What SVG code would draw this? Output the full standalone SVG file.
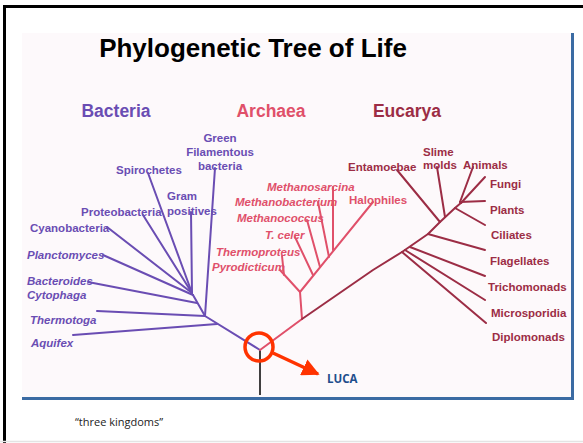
<svg xmlns="http://www.w3.org/2000/svg" width="583" height="443" viewBox="0 0 583 443">
<defs>
<style>
.t{font-family:"Liberation Sans",Arial,sans-serif;font-weight:bold;font-size:11.5px}
.i{font-style:italic}
.bac{fill:#6a4db3}
.arc{fill:#e0506a}
.euc{fill:#9c2d45}
.lb{fill:none;stroke:#6a4db3;stroke-width:2;stroke-linecap:round;stroke-linejoin:round}
.la{fill:none;stroke:#e0506a;stroke-width:2;stroke-linecap:round;stroke-linejoin:round}
.le{fill:none;stroke:#9c2d45;stroke-width:2;stroke-linecap:round;stroke-linejoin:round}
</style>
<marker id="ah" viewBox="0 0 10 10" refX="9" refY="5" markerWidth="5" markerHeight="5" orient="auto" markerUnits="strokeWidth">
<path d="M0,0 L10,5 L0,10 z" fill="#ff3300"/>
</marker>
</defs>
<rect x="0" y="0" width="583" height="443" fill="#ffffff"/>
<g id="frame">
<line x1="3" y1="6.5" x2="583" y2="6.5" stroke="#000" stroke-width="3"/>
<line x1="4.5" y1="5" x2="4.5" y2="443" stroke="#000" stroke-width="3"/>
<line x1="0" y1="441.5" x2="583" y2="441.5" stroke="#e4e4e4" stroke-width="1.5"/>
<rect x="22" y="33" width="550" height="365" fill="#fdf9fb"/>
<line x1="572.5" y1="33" x2="572.5" y2="400" stroke="#3b6ba3" stroke-width="3"/>
<line x1="22" y1="398.5" x2="574" y2="398.5" stroke="#3b6ba3" stroke-width="3"/>
</g>
<g id="title">
<text x="253" y="57" text-anchor="middle" font-family="Liberation Sans,Arial,sans-serif" font-weight="bold" font-size="26" fill="#000">Phylogenetic Tree of Life</text>
</g>
<g id="domains" font-family="Liberation Sans,Arial,sans-serif" font-weight="bold" font-size="17.5">
<text x="116" y="117" text-anchor="middle" class="bac">Bacteria</text>
<text x="271" y="117" text-anchor="middle" class="arc">Archaea</text>
<text x="407" y="117" text-anchor="middle" class="euc">Eucarya</text>
</g>
<g id="connectors">
<line x1="260" y1="350" x2="260" y2="395" stroke="#000" stroke-width="1.5"/>
<!-- Bacteria -->
<polyline class="lb" points="260,350 205,316 193,295"/>
<line class="lb" x1="217" y1="324" x2="73" y2="335"/>
<line class="lb" x1="205" y1="316" x2="97" y2="311"/>
<line class="lb" x1="197" y1="303" x2="88" y2="282"/>
<line class="lb" x1="193" y1="295" x2="103" y2="255"/>
<line class="lb" x1="205" y1="316" x2="215" y2="168"/>
<line class="lb" x1="192" y1="293" x2="191" y2="212"/>
<line class="lb" x1="192" y1="293" x2="148" y2="173"/>
<line class="lb" x1="192" y1="293" x2="143" y2="215"/>
<line class="lb" x1="192" y1="293" x2="107" y2="227"/>
<!-- Archaea -->
<polyline class="la" points="260,350 302,319 300,292 373,202"/>
<line class="la" x1="300" y1="292" x2="280" y2="270"/>
<line class="la" x1="284" y1="275" x2="282" y2="256"/>
<line class="la" x1="313" y1="275" x2="295" y2="237"/>
<line class="la" x1="320" y1="267" x2="307" y2="220"/>
<line class="la" x1="329" y1="257" x2="318" y2="202"/>
<line class="la" x1="333" y1="250" x2="333" y2="187"/>
<!-- Eucarya -->
<polyline class="le" points="302,319 373,270 402,252 428,234 440,222 455,208 462,202"/>
<line class="le" x1="440" y1="222" x2="397" y2="170"/>
<line class="le" x1="445" y1="217" x2="437" y2="167"/>
<line class="le" x1="460" y1="202" x2="473" y2="167"/>
<line class="le" x1="461" y1="203" x2="485" y2="177"/>
<line class="le" x1="460" y1="202" x2="485" y2="201"/>
<line class="le" x1="455" y1="208" x2="485" y2="225"/>
<line class="le" x1="428" y1="234" x2="485" y2="250"/>
<line class="le" x1="410" y1="247" x2="485" y2="276"/>
<line class="le" x1="405" y1="250" x2="485" y2="300"/>
<line class="le" x1="402" y1="252" x2="486" y2="323"/>
<!-- LUCA marker -->
<circle cx="259" cy="347" r="14" fill="none" stroke="#ff3300" stroke-width="3.5"/>
<line x1="273" y1="353" x2="318" y2="374" stroke="#ff3300" stroke-width="3.5" marker-end="url(#ah)"/>
</g>
<g id="bacteria-labels" class="t bac">
<text x="220" y="142" text-anchor="middle">Green</text>
<text x="220" y="156" text-anchor="middle">Filamentous</text>
<text x="220" y="170" text-anchor="middle">bacteria</text>
<text x="116" y="174">Spirochetes</text>
<text x="167" y="200">Gram</text>
<text x="167" y="215">positives</text>
<text x="81" y="216">Proteobacteria</text>
<text x="30" y="232">Cyanobacteria</text>
<text class="i" x="27" y="259">Planctomyces</text>
<text class="i" x="27" y="285">Bacteroides</text>
<text class="i" x="27" y="299">Cytophaga</text>
<text class="i" x="30" y="324">Thermotoga</text>
<text class="i" x="31" y="347">Aquifex</text>
</g>
<g id="archaea-labels" class="t arc">
<text class="i" x="267" y="191">Methanosarcina</text>
<text class="i" x="235" y="206">Methanobacterium</text>
<text class="i" x="237" y="222">Methanococcus</text>
<text class="i" x="265" y="239">T. celer</text>
<text class="i" x="216" y="256">Thermoproteus</text>
<text class="i" x="212" y="271">Pyrodicticum</text>
<text x="349" y="204">Halophiles</text>
</g>
<g id="eucarya-labels" class="t euc">
<text x="348" y="171">Entamoebae</text>
<text x="423" y="156">Slime</text>
<text x="423" y="169">molds</text>
<text x="463" y="169">Animals</text>
<text x="490" y="188">Fungi</text>
<text x="490" y="214">Plants</text>
<text x="491" y="239">Ciliates</text>
<text x="490" y="265">Flagellates</text>
<text x="488" y="291">Trichomonads</text>
<text x="491" y="317">Microsporidia</text>
<text x="492" y="341">Diplomonads</text>
</g>
<g id="luca">
<text x="327" y="383" font-family="Open Sans,Liberation Sans,sans-serif" font-weight="bold" font-size="11.5" fill="#1f4e8c">LUCA</text>
</g>
<g id="caption">
<text x="75" y="426" font-family="Open Sans,Liberation Sans,sans-serif" font-size="11" fill="#222">“three kingdoms”</text>
</g>
</svg>
